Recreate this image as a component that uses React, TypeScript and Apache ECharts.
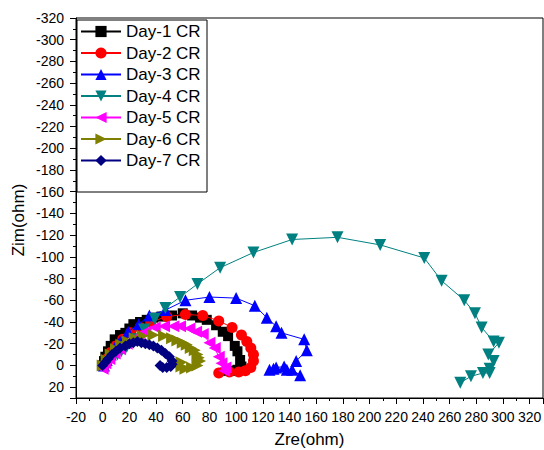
import React, { useEffect, useRef } from "react";
import * as echarts from "echarts";

const seriesNames = ["Day-1 CR", "Day-2 CR", "Day-3 CR", "Day-4 CR", "Day-5 CR", "Day-6 CR", "Day-7 CR"];
const xTitle = "Zre(ohm)";
const yTitle = "Zim(ohm)";

const day1: number[][] = [[0,0],[1,-4],[2,-8],[4,-13],[6,-18],[9,-24],[13,-28],[17,-30],[20,-34],[23,-38],[28,-40],[33,-42],[38,-44],[44,-45],[52,-46],[60,-48],[67,-46],[73,-44],[78,-42],[85,-37],[90,-31],[94,-27],[99,-18],[101,-13],[103,-5],[104,1],[101,4],[98,5],[94,5]];
const day2: number[][] = [[1,0],[3,-6],[6,-12],[10,-18],[15,-24],[21,-30],[28,-35],[36,-40],[48,-45],[62,-47],[75,-46],[87,-41],[97,-35],[104,-28],[108,-22],[111,-16],[113,-10],[113,-4],[111,2],[107,5],[102,6],[95,6],[87,7]];
const day3: number[][] = [[1,0],[3,-5],[6,-10],[9,-16],[13,-22],[19,-31],[27,-38],[35,-46],[47,-51],[62,-60],[80,-63],[100,-62],[114,-55],[123,-44],[130,-36],[134,-30],[151,-24],[153,-14],[145,-4],[142,4],[148,9],[138,4],[136,1],[130,2],[128,3],[125,4]];
const day4: number[][] = [[3,1],[5,-3],[8,-7],[11,-10],[14,-13],[18,-17],[24,-24],[31,-33],[39,-43],[47,-53],[58,-63],[71,-75],[88,-90],[113,-104],[142,-116],[176,-118],[208,-111],[241,-99],[254,-78],[271,-60],[279,-48],[284,-35],[293,-22],[297,-21],[289,-10],[293,-4],[290,3],[290,7],[285,7],[276,10],[268,16]];
const day5: number[][] = [[0,3],[2,-2],[5,-6],[9,-11],[13,-15],[18,-20],[23,-24],[27,-27],[32,-31],[39,-35],[46,-36],[53,-36],[58,-36],[65,-34],[70,-31],[75,-29],[80,-21],[84,-16],[87,-8],[89,-2],[92,2],[91,5]];
const day6: number[][] = [[0,0],[3,-5],[6,-10],[10,-15],[14,-19],[19,-22],[24,-25],[30,-27],[38,-28],[46,-27],[52,-25],[56,-23],[60,-21],[63,-19],[66,-16],[69,-14],[71,-10],[72,-7],[73,-4],[71,0],[67,2],[62,3],[59,1],[59,-3]];
const day7: number[][] = [[0,0],[2,-3],[4,-6],[7,-10],[10,-13],[13,-16],[17,-18],[20,-20],[23,-21],[26,-22],[29,-21],[32,-20],[35,-19],[38,-18],[41,-16],[44,-14],[47,-11],[50,-8],[52,-4],[52,-1],[51,1],[48,2],[45,2],[43,0]];

const allData = [day1, day2, day3, day4, day5, day6, day7];
const colors = ["#000000", "#FF0000", "#0000FF", "#008080", "#FF00FF", "#808000", "#000080"];
const symbols = ["rect", "circle", "triangle", "triangle", "triangle", "triangle", "diamond"];
const rotations = [0, 0, 0, 180, 90, -90, 0];
const sizes = [10, 11, 12, 12, 12, 12, 11];

const FONT = "'Liberation Sans', Arial, sans-serif";

export default function App() {
  const ref = useRef<HTMLDivElement>(null);
  useEffect(() => {
    if (!ref.current) return;
    const chart = echarts.init(ref.current, undefined, { renderer: "svg" });
    const series = allData.map((d, i) => ({
      name: seriesNames[i],
      type: "line",
      data: d,
      symbol: symbols[i],
      symbolRotate: rotations[i],
      symbolSize: sizes[i],
      showAllSymbol: true,
      color: colors[i],
      lineStyle: { color: colors[i], width: 1 },
      itemStyle: { color: colors[i] },
      z: 2 + i,
    }));
    chart.setOption({
      animation: false,
      backgroundColor: "#ffffff",
      textStyle: { fontFamily: FONT },
      grid: { left: 76, right: 1, top: 18, bottom: 52, show: true, borderColor: "#000", borderWidth: 1, containLabel: false, outerBoundsMode: "none" },
      xAxis: {
        type: "value",
        min: -20,
        max: 330,
        interval: 20,
        name: xTitle,
        nameLocation: "middle",
        nameGap: 33,
        nameTextStyle: { fontSize: 17, color: "#000", fontFamily: FONT },
        axisLine: { show: true, onZero: false, lineStyle: { color: "#000", width: 1 } },
        axisTick: { show: true, inside: false, length: 6, lineStyle: { color: "#000" } },
        minorTick: { show: true, splitNumber: 2, length: 3, lineStyle: { color: "#000" } },
        splitLine: { show: false },
        axisLabel: {
          fontSize: 14,
          color: "#000",
          margin: 12,
          fontFamily: FONT,
          formatter: (v: number) => (v > 320 ? "" : String(v)),
        },
      },
      yAxis: {
        type: "value",
        inverse: true,
        min: -320,
        max: 30,
        interval: 20,
        axisLine: { show: true, onZero: false, lineStyle: { color: "#000", width: 1 } },
        axisTick: { show: true, inside: false, length: 6, lineStyle: { color: "#000" } },
        minorTick: { show: true, splitNumber: 2, length: 3, lineStyle: { color: "#000" } },
        splitLine: { show: false },
        axisLabel: {
          fontSize: 14,
          color: "#000",
          margin: 12,
          fontFamily: FONT,
          formatter: (v: number) => (v > 20 ? "" : String(v)),
        },
      },
      legend: {
        orient: "vertical",
        left: 80,
        top: 23,
        itemWidth: 40,
        itemHeight: 14,
        itemGap: 4.5,
        padding: 0,
        textStyle: { fontSize: 17, color: "#000", fontFamily: FONT, padding: [0, 0, 0, 0] },
        data: seriesNames,
        z: 20,
      },
      graphic: [
        {
          type: "rect",
          shape: { x: 77, y: 20, width: 130, height: 172 },
          style: { fill: "#fff", stroke: "#000", lineWidth: 1 },
          z: 10,
        },
        {
          type: "text",
          x: 18,
          y: 220,
          rotation: Math.PI / 2,
          style: { text: yTitle, fontSize: 17, fill: "#000", fontFamily: FONT, align: "center", verticalAlign: "middle" },
          z: 10,
        },
      ],
      series,
    });
    return () => chart.dispose();
  }, []);
  return <div ref={ref} style={{ position: "fixed", left: 0, top: 0, width: 544, height: 450 }} />;
}
